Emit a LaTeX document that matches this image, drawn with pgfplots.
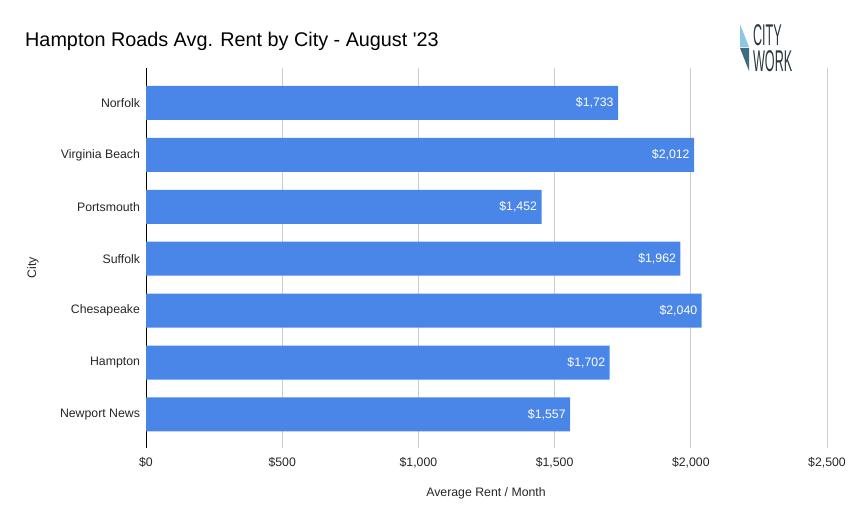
\documentclass[border=0pt]{standalone}
\usepackage{pgfplots}
\pgfplotsset{compat=1.18}
\usepackage{fontspec}
\setmainfont{Liberation Sans}
\definecolor{barblue}{HTML}{4A86E8}
\definecolor{gridgray}{HTML}{CCCCCC}
\definecolor{logolight}{HTML}{8CC8E6}
\definecolor{logodark}{HTML}{3E6B80}
\definecolor{logotext}{HTML}{2B3A40}
\begin{document}
\begin{tikzpicture}[x=1bp,y=1bp]
\useasboundingbox (0,0) rectangle (854,528);
\begin{axis}[
  at={(146bp,80bp)}, anchor=south west,
  scale only axis, width=681bp, height=380bp,
  xbar, bar width=0.655,
  xmin=0, xmax=2500,
  ymin=-0.674, ymax=6.647, y dir=reverse,
  ytick={0,1,2,3,4,5,6},
  yticklabels={Norfolk,Virginia Beach,Portsmouth,Suffolk,Chesapeake,Hampton,Newport News},
  xtick={0,500,1000,1500,2000,2500},
  xticklabel={\$\pgfmathprintnumber{\tick}},
  /pgf/number format/.cd, 1000 sep={,}, assume math mode=true, /pgfplots/.cd,
  scaled x ticks=false,
  major tick length=0pt,
  xmajorgrids, major grid style={gridgray, line width=0.8bp},
  axis y line*=left, axis x line*=bottom,
  y axis line style={black, line width=0.9bp, -},
  x axis line style={draw=none},
  tick label style={font=\fontsize{12.3bp}{14bp}\selectfont, text=black!85},
  xticklabel style={yshift=-6bp},
  yticklabel style={xshift=-2.5bp},
  nodes near coords={\$\pgfmathprintnumber{\pgfplotspointmeta}},
  every node near coord/.append style={anchor=east, xshift=-1bp, text=white, font=\fontsize{12.3bp}{14bp}\selectfont},
]
\addplot[fill=barblue, draw=none] coordinates {
 (1733,0) (2012,1) (1452,2) (1962,3) (2040,4) (1702,5) (1557,6)
};
\end{axis}
\node[anchor=base west, inner sep=0, font=\fontsize{19.8bp}{22bp}\selectfont] at (25,481) {Hampton Roads Avg. Rent by City - August \textquotesingle 23};
\node[font=\fontsize{12.3bp}{14bp}\selectfont, text=black!85] at (486,35) {Average Rent / Month};
\node[rotate=90, font=\fontsize{12.3bp}{14bp}\selectfont, text=black!85] at (33,260) {City};
% logo
\fill[logolight] (740,504) -- (749,481) -- (740,481) -- cycle;
\fill[logodark] (740,480) -- (749,480) -- (749,457) -- cycle;
\node[anchor=base west, inner sep=0, align=left, text=logotext, xscale=0.42, font=\fontsize{30bp}{26bp}\selectfont] at (753,456) {CITY\\WORK};
\end{tikzpicture}
\end{document}
